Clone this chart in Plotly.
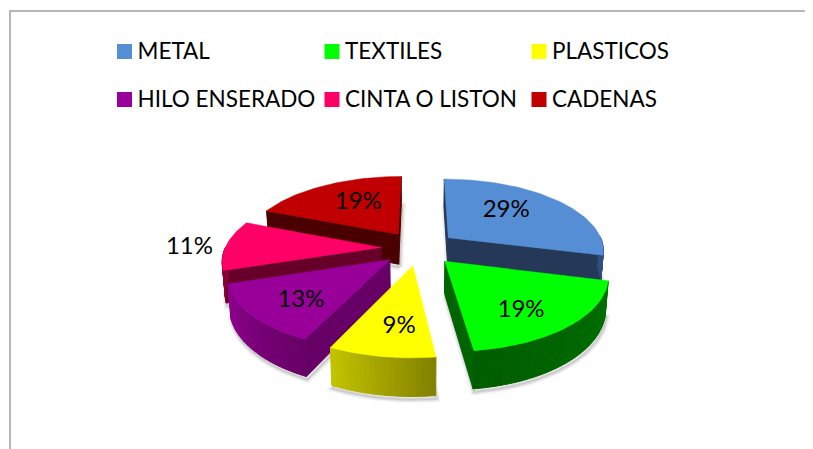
import math
import plotly.graph_objects as go

categories = ["METAL", "TEXTILES", "PLASTICOS", "HILO ENSERADO", "CINTA O LISTON", "CADENAS"]
values = [29, 19, 9, 13, 11, 19]

top_colors = ["#558ED5", "#00FF00", "#FFFF00", "#990099", "#FF0066", "#C00000"]
wall_colors = ["#253858", "#006400", "#808000", "#660066", "#660029", "#4A0000"]
arc_from = ["#2F4F7F", "#005C00", "#C4C400", "#8F008F", "#8C0038", "#6A0000"]
arc_to = ["#2F4F7F", "#007000", "#808000", "#660066", "#8C0038", "#6A0000"]
label_radius = [0.636, 0.70, 0.68, 0.685, 1.24, 0.635]
label_turn = [-10.5, 5, -3, -2, 0, 6]
draw_order = [5, 0, 4, 3, 2, 1]

CX, CY, R, K, A, H, EXPLODE = 419, 248, 156, 0.455, 0.16, 31, 0.243
FONT = "Lato"
LEGEND_SIZE = 22.5
LABEL_SIZE = 24
LABEL_DY = 3


def proj(u, v, z=0):
    p = 1 / (1 - A * v)
    return CX + R * u * p * (1 - 0.015 * z), CY + K * R * v * p + H * z * p


def polar(theta, r=1.0):
    t = math.radians(theta)
    return r * math.sin(t), -r * math.cos(t)


def mix(c1, c2, f):
    a = [int(c1[i:i + 2], 16) for i in (1, 3, 5)]
    b = [int(c2[i:i + 2], 16) for i in (1, 3, 5)]
    return "rgb(%d,%d,%d)" % tuple(round(x + (y - x) * f) for x, y in zip(a, b))


def poly(pts, color, line=1.0):
    xs = [q[0] for q in pts] + [pts[0][0]]
    ys = [q[1] for q in pts] + [pts[0][1]]
    return go.Scatter(x=xs, y=ys, mode="lines", fill="toself", fillcolor=color,
                      line=dict(color=color, width=line), hoverinfo="skip", showlegend=False)


fig = go.Figure()
total = sum(values)
angles = []
start = 0.0
for val in values:
    angles.append((start, start + 360.0 * val / total))
    start += 360.0 * val / total

slice_traces = []
label_x, label_y, label_text = [], [], []
for i in draw_order:
    a0, a1 = angles[i]
    mid = (a0 + a1) / 2
    ox, oy = polar(mid, EXPLODE)
    steps = max(8, int((a1 - a0) / 1.5))
    arc = [a0 + (a1 - a0) * s / steps for s in range(steps + 1)]

    def pt(theta, r=1.0, z=0):
        u, v = polar(theta, r)
        return proj(ox + u, oy + v, z)

    apex_t, apex_b = proj(ox, oy, 0), proj(ox, oy, 1)
    top = [apex_t] + [pt(t) for t in arc]
    bottom = [apex_b] + [pt(t, 1, 1) for t in arc]

    # soft drop shadow around the extruded silhouette
    for grow, alpha in ((7, 0.07), (4, 0.10), (2, 0.12)):
        xs = [q[0] + 1 for q in bottom] + [bottom[0][0] + 1]
        ys = [q[1] + 3 for q in bottom] + [bottom[0][1] + 3]
        slice_traces.append(go.Scatter(x=xs, y=ys, mode="lines",
                                       line=dict(color="rgba(70,70,70,%.2f)" % alpha, width=grow),
                                       hoverinfo="skip", showlegend=False))

    # radial walls facing the viewer
    for theta, normal in ((a0, a0 - 90), (a1, a1 + 90)):
        if polar(normal)[1] > -0.02:
            q0, q1 = pt(theta), pt(theta, 1, 1)
            slice_traces.append(poly([apex_t, q0, q1, apex_b], wall_colors[i]))

    # outer wall strips facing the viewer
    for s in range(len(arc) - 1):
        t0, t1 = arc[s], arc[s + 1]
        if polar((t0 + t1) / 2)[1] > 0:
            f = 1 - (s + 0.5) / (len(arc) - 1)
            slice_traces.append(poly([pt(t0), pt(t1), pt(t1, 1, 1), pt(t0, 1, 1)],
                                     mix(arc_from[i], arc_to[i], f)))

    slice_traces.append(poly(top, top_colors[i], 0.5))

    lx, ly = pt(mid + label_turn[i], label_radius[i])
    label_x.append(lx)
    label_y.append(ly + LABEL_DY)
    label_text.append(f"{values[i]}%")

for tr in slice_traces:
    fig.add_trace(tr)

fig.add_trace(go.Scatter(x=label_x, y=label_y, text=label_text, mode="text", textposition="middle center",
                         textfont=dict(family=FONT, size=LABEL_SIZE, color="#000000"),
                         hoverinfo="skip", showlegend=False))

LEG_X = [124.5, 332, 539]
LEG_Y = [51.5, 99.5]
LEG_TEXT_DX = 13
LEG_TEXT_DY = 2
for i, name in enumerate(categories):
    x, y = LEG_X[i % 3], LEG_Y[i // 3]
    fig.add_trace(go.Scatter(x=[x], y=[y], name=name, mode="markers",
                             marker=dict(symbol="square", size=15, color=top_colors[i]),
                             hoverinfo="skip", showlegend=False))
    fig.add_trace(go.Scatter(x=[x + LEG_TEXT_DX], y=[y + LEG_TEXT_DY], text=[name], mode="text",
                             textposition="middle right",
                             textfont=dict(family=FONT, size=LEGEND_SIZE, color="#000000"),
                             hoverinfo="skip", showlegend=False))

fig.update_layout(
    width=805, height=441, autosize=False,
    margin=dict(l=0, r=0, t=0, b=0),
    paper_bgcolor="#FFFFFF", plot_bgcolor="#FFFFFF",
    xaxis=dict(range=[8, 813], visible=False, fixedrange=True),
    yaxis=dict(range=[449, 8], visible=False, fixedrange=True),
    showlegend=False,
    shapes=[dict(type="path", path="M 10 449 L 10 11 L 813 11", line=dict(color="#A0A0A0", width=1.5), layer="below")],
)
fig.write_html("out.html", config=dict(displayModeBar=False))
